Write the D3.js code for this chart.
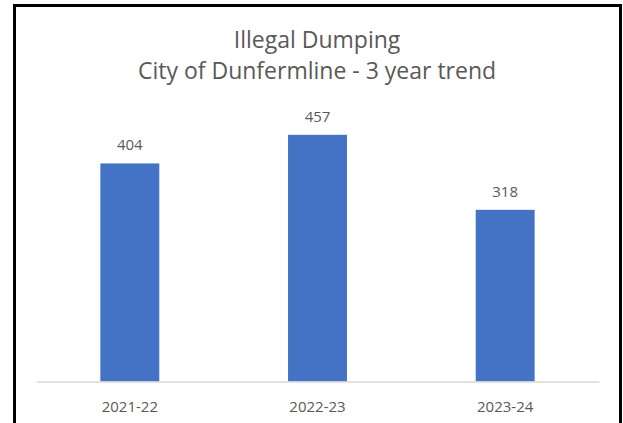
<!DOCTYPE html>
<html lang="en">
<head>
    <meta charset="UTF-8">
    <title>Illegal Dumping</title>
    <style type="text/css">
        body { margin: 0; background: #fff; }
        svg { display: block; }
        text { font-family: "Open Sans", sans-serif; fill: #595959; }
    </style>
</head>
<body>
    <div id="chart"></div>
    <script src="https://cdnjs.cloudflare.com/ajax/libs/d3/7.8.5/d3.min.js"></script>
    <script type="text/javascript">
        // data
        var categories = ["2021-22", "2022-23", "2023-24"];
        var values = [404, 457, 318];
        var titleLines = ["Illegal Dumping", "City of Dunfermline - 3 year trend"];

        var width = 623, height = 423;
        var plot = { left: 36, right: 599, bottom: 381.5, top: 111.6 };

        var svg = d3.select("#chart").append("svg")
            .attr("width", width)
            .attr("height", height);

        // frame around the chart (bottom edge is off the picture)
        svg.append("rect")
            .attr("x", 14.5).attr("y", 5.5)
            .attr("width", 606).attr("height", 440)
            .attr("fill", "none")
            .attr("stroke", "#000")
            .attr("stroke-width", 3);

        var x = d3.scaleBand()
            .domain(categories)
            .range([plot.left, plot.right])
            .paddingInner(0.686)
            .paddingOuter(0.343);

        var y = d3.scaleLinear()
            .domain([0, 500])
            .range([plot.bottom, plot.top]);

        // title
        svg.append("text")
            .attr("x", 317).attr("y", 48)
            .attr("text-anchor", "middle")
            .style("font-size", "23px")
            .selectAll("tspan")
            .data(titleLines)
            .enter().append("tspan")
            .attr("x", 317)
            .attr("dy", (d, i) => i ? 31 : 0)
            .text(d => d);

        // bars
        svg.selectAll(".bar")
            .data(values)
            .enter().append("rect")
            .attr("class", "bar")
            .attr("x", (d, i) => x(categories[i]))
            .attr("y", d => y(d))
            .attr("width", x.bandwidth())
            .attr("height", d => y(0) - y(d))
            .attr("fill", "#4472C4");

        // value labels
        svg.selectAll(".val")
            .data(values)
            .enter().append("text")
            .attr("class", "val")
            .attr("x", (d, i) => x(categories[i]) + x.bandwidth() / 2)
            .attr("y", d => y(d) - 13)
            .attr("text-anchor", "middle")
            .style("font-size", "15px")
            .text(d => d);

        // category axis
        var axis = svg.append("g")
            .attr("transform", "translate(0," + plot.bottom + ")")
            .call(d3.axisBottom(x).tickSize(0).tickPadding(20));
        axis.select(".domain")
            .attr("stroke", "#d9d9d9")
            .attr("stroke-width", 1.5);
        axis.selectAll("text")
            .attr("fill", "#595959")
            .style("font-family", "\"Open Sans\", sans-serif")
            .style("font-size", "15px");
    </script>
</body>
</html>
